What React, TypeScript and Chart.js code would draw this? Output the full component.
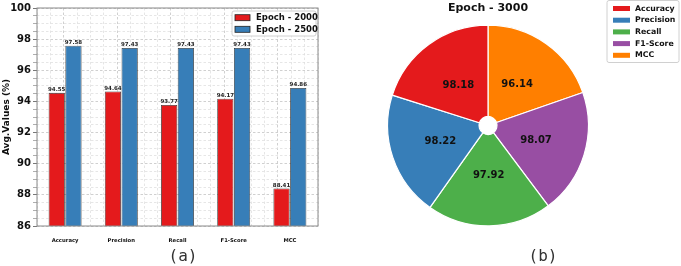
import React, { useEffect, useRef } from "react";
import { Chart, registerables } from "chart.js";

Chart.register(...registerables);

// ---- data ----
const metrics = ["Accuracy", "Precision", "Recall", "F1-Score", "MCC"];
const epoch2000 = [94.55, 94.64, 93.77, 94.17, 88.41];
const epoch2500 = [97.58, 97.43, 97.43, 97.43, 94.86];
const epoch3000 = [98.18, 98.22, 97.92, 98.07, 96.14];
const barSeriesNames = ["Epoch - 2000", "Epoch - 2500"];
const pieTitle = "Epoch - 3000";
const yMin = 86;
const yMax = 100;
const yMajorStep = 2;
const yMinorStep = 0.5;
const yTitle = "Avg.Values (%)";
const panelLabels = ["(a)", "(b)"];

// ---- styles ----
const FONT = "'DejaVu Sans', 'Liberation Sans', sans-serif";
const MONO = "'DejaVu Sans Mono', monospace";
const RED = "#e41a1c";
const BLUE = "#377eb8";
const GREEN = "#4daf4a";
const PURPLE = "#984ea3";
const ORANGE = "#ff7f00";
const barColors = [RED, BLUE];
const pieColors = [RED, BLUE, GREEN, PURPLE, ORANGE];

const isMajor = (v: number, step: number) => Math.abs(v / step - Math.round(v / step)) < 1e-6;
const tickIsMajor = (c: any, step: number) => !!(c && c.tick && isMajor(c.tick.value, step));

function drawLegendBox(
  ctx: CanvasRenderingContext2D,
  x: number,
  y: number,
  w: number,
  h: number,
  items: { label: string; color: string }[],
  opts: { swX: number; swW: number; swH: number; textX: number; firstY: number; rowH: number; size: number; edge: boolean }
) {
  ctx.save();
  ctx.fillStyle = "rgba(255,255,255,0.85)";
  ctx.strokeStyle = "#d0d0d0";
  ctx.lineWidth = 1;
  ctx.beginPath();
  const r = 2;
  ctx.moveTo(x + r, y);
  ctx.lineTo(x + w - r, y);
  ctx.quadraticCurveTo(x + w, y, x + w, y + r);
  ctx.lineTo(x + w, y + h - r);
  ctx.quadraticCurveTo(x + w, y + h, x + w - r, y + h);
  ctx.lineTo(x + r, y + h);
  ctx.quadraticCurveTo(x, y + h, x, y + h - r);
  ctx.lineTo(x, y + r);
  ctx.quadraticCurveTo(x, y, x + r, y);
  ctx.closePath();
  ctx.fill();
  ctx.stroke();
  ctx.font = `bold ${opts.size}px ${FONT}`;
  ctx.textBaseline = "middle";
  ctx.textAlign = "left";
  items.forEach((it, i) => {
    const cy = y + opts.firstY + i * opts.rowH;
    ctx.fillStyle = it.color;
    ctx.fillRect(x + opts.swX, cy - opts.swH / 2, opts.swW, opts.swH);
    if (opts.edge) {
      ctx.strokeStyle = "#222";
      ctx.lineWidth = 0.8;
      ctx.strokeRect(x + opts.swX, cy - opts.swH / 2, opts.swW, opts.swH);
    }
    ctx.fillStyle = "#111";
    ctx.fillText(it.label, x + opts.textX, cy);
  });
  ctx.restore();
}

function BarPanel() {
  const ref = useRef<HTMLCanvasElement>(null);
  useEffect(() => {
    const canvas = ref.current!;
    const framePlugin = {
      id: "frame",
      afterDatasetsDraw(chart: any) {
        const { ctx, chartArea: a } = chart;
        ctx.save();
        ctx.strokeStyle = "#8a8a8a";
        ctx.lineWidth = 1;
        ctx.strokeRect(a.left, a.top, a.right - a.left, a.bottom - a.top);
        ctx.restore();
      },
    };
    const valuePlugin = {
      id: "values",
      afterDatasetsDraw(chart: any) {
        const { ctx } = chart;
        ctx.save();
        ctx.font = `bold 5.5px ${FONT}`;
        ctx.fillStyle = "#222";
        ctx.textAlign = "center";
        ctx.textBaseline = "bottom";
        chart.data.datasets.forEach((ds: any, di: number) => {
          const meta = chart.getDatasetMeta(di);
          meta.data.forEach((bar: any, i: number) => {
            ctx.fillText(Number(ds.data[i]).toFixed(2), bar.x, bar.y - 0.5);
          });
        });
        ctx.restore();
      },
    };
    const legendPlugin = {
      id: "barLegend",
      afterDraw(chart: any) {
        const a = chart.chartArea;
        drawLegendBox(
          chart.ctx,
          a.right - 86,
          a.top + 3,
          84,
          25,
          barSeriesNames.map((l, i) => ({ label: l, color: barColors[i] })),
          { swX: 3, swW: 15, swH: 6, textX: 24, firstY: 6.7, rowH: 11.6, size: 8.5, edge: true }
        );
      },
    };
    const chart = new Chart(canvas, {
      type: "bar",
      data: {
        labels: metrics,
        datasets: [epoch2000, epoch2500].map((d, i) => ({
          label: barSeriesNames[i],
          data: d,
          backgroundColor: barColors[i],
          borderColor: "rgba(30,30,30,0.9)",
          borderWidth: 0.8,
          categoryPercentage: 0.595,
          barPercentage: 0.97,
          xAxisID: "x",
          yAxisID: "y",
        })),
      },
      options: {
        responsive: false,
        animation: false,
        layout: { padding: { top: 6, right: 22, left: 0, bottom: 0 } },
        plugins: { legend: { display: false }, tooltip: { enabled: false }, title: { display: false } },
        scales: {
          x: {
            type: "category",
            position: "bottom",
            grid: { display: false },
            border: { display: false },
            ticks: {
              font: { family: FONT, size: 5.3, weight: "bold" },
              color: "#111",
              padding: 3,
              maxRotation: 0,
              autoSkip: false,
            },
            afterFit: (s: any) => {
              s.height = 40;
            },
          },
          xg: {
            type: "linear",
            position: "bottom",
            min: -0.5,
            max: metrics.length - 0.5,
            ticks: { display: false, stepSize: 0.25, autoSkip: false },
            grid: {
              drawTicks: false,
              lineWidth: 0.8,
              color: (c: any) => (tickIsMajor(c, 1) ? "#c4c4c4" : "#e0e0e0"),
            },
            border: { display: false, dash: [2.5, 2] },
            afterFit: (s: any) => {
              s.height = 0;
            },
          },
          y: {
            type: "linear",
            min: yMin,
            max: yMax,
            ticks: {
              stepSize: yMinorStep,
              autoSkip: false,
              callback: (v: any) => (isMajor(Number(v), yMajorStep) ? String(Math.round(Number(v))) : ""),
              font: { family: FONT, size: 10, weight: "bold" },
              color: "#111",
              padding: 2,
            },
            grid: {
              lineWidth: 0.8,
              tickLength: 4,
              color: (c: any) => (tickIsMajor(c, yMajorStep) ? "#c4c4c4" : "#e0e0e0"),
              tickColor: (c: any) => (tickIsMajor(c, yMajorStep) ? "#555" : "#999"),
            },
            border: { display: false, dash: [2.5, 2] },
            title: {
              display: true,
              text: yTitle,
              font: { family: FONT, size: 9, weight: "bold" },
              color: "#111",
              padding: { top: 1, bottom: 0 },
            },
            afterFit: (s: any) => {
              s.width = 37;
            },
          },
        },
      } as any,
      plugins: [framePlugin, valuePlugin, legendPlugin],
    });
    return () => chart.destroy();
  }, []);
  return <canvas ref={ref} width={340} height={266} style={{ position: "absolute", left: 0, top: 0 }} />;
}

function PiePanel() {
  const ref = useRef<HTMLCanvasElement>(null);
  useEffect(() => {
    const canvas = ref.current!;
    // slices run counter-clockwise from 12 o'clock, so feed them to Chart.js reversed
    const order = metrics.map((_, i) => metrics.length - 1 - i);
    const labelPlugin = {
      id: "pieLabels",
      afterDatasetsDraw(chart: any) {
        const { ctx } = chart;
        const meta = chart.getDatasetMeta(0);
        ctx.save();
        ctx.font = `bold 10px ${FONT}`;
        ctx.fillStyle = "#111";
        ctx.textAlign = "center";
        ctx.textBaseline = "middle";
        meta.data.forEach((arc: any, i: number) => {
          const p = arc.getProps(["x", "y", "startAngle", "endAngle", "outerRadius"], true);
          const mid = (p.startAngle + p.endAngle) / 2;
          const r = p.outerRadius * 0.5;
          ctx.fillText(Number(chart.data.datasets[0].data[i]).toFixed(2), p.x + Math.cos(mid) * r, p.y + Math.sin(mid) * r);
        });
        // title
        const first = meta.data[0];
        ctx.font = `bold 11px ${FONT}`;
        ctx.fillText(pieTitle, first.x, 8.5);
        ctx.restore();
      },
    };
    const legendPlugin = {
      id: "pieLegend",
      afterDraw(chart: any) {
        drawLegendBox(
          chart.ctx,
          267,
          0.5,
          72,
          62,
          metrics.map((l, i) => ({ label: l, color: pieColors[i] })),
          { swX: 6, swW: 17, swH: 5, textX: 28, firstY: 8, rowH: 11.7, size: 7.8, edge: false }
        );
      },
    };
    const chart = new Chart(canvas, {
      type: "doughnut",
      data: {
        labels: order.map((i) => metrics[i]),
        datasets: [
          {
            data: order.map((i) => epoch3000[i]),
            backgroundColor: order.map((i) => pieColors[i]),
            borderColor: "#ffffff",
            borderWidth: 1.2,
          },
        ],
      },
      options: {
        responsive: false,
        animation: false,
        rotation: 0,
        cutout: "9%",
        layout: { padding: { left: 47, right: 92, top: 24, bottom: 39 } },
        plugins: { legend: { display: false }, tooltip: { enabled: false } },
      } as any,
      plugins: [labelPlugin, legendPlugin],
    });
    return () => chart.destroy();
  }, []);
  return <canvas ref={ref} width={341} height={266} style={{ position: "absolute", left: 340, top: 0 }} />;
}

export default function App() {
  const labelStyle: React.CSSProperties = {
    position: "absolute",
    top: 246,
    width: 60,
    textAlign: "center",
    fontFamily: MONO,
    fontSize: 16,
    lineHeight: "20px",
    color: "#333",
  };
  return (
    <div style={{ position: "fixed", left: 0, top: 0, width: 681, height: 266, background: "#fff", overflow: "hidden" }}>
      <BarPanel />
      <PiePanel />
      <div style={{ ...labelStyle, left: 183 - 30 }}>{panelLabels[0]}</div>
      <div style={{ ...labelStyle, left: 543 - 30 }}>{panelLabels[1]}</div>
    </div>
  );
}
